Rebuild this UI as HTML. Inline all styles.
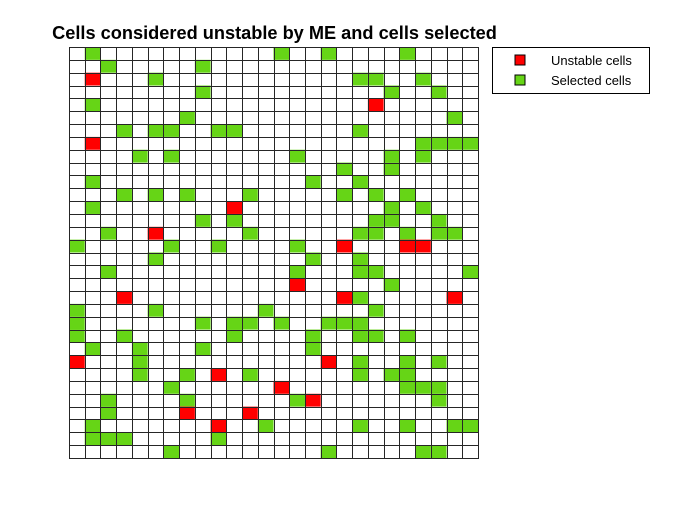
<!DOCTYPE html>
<html><head><meta charset="utf-8"><style>
html,body{margin:0;padding:0;background:#fff;}
svg{display:block;font-family:"Liberation Sans",Arial,sans-serif;}
</style></head><body>
<svg id="chart" width="700" height="525">
<rect width="700" height="525" fill="#fff"/>
<text x="274.5" y="39" text-anchor="middle" font-size="18.2" font-weight="bold" fill="#000">Cells considered unstable by ME and cells selected</text>
<g id="cells"></g>
<g id="lines"></g>
<g>
<rect x="492.5" y="47.5" width="157" height="46" fill="#fff" stroke="#000" stroke-width="1"/>
<rect x="515" y="55" width="10" height="10" fill="#ff0000" stroke="#000" stroke-width="1"/>
<text x="551" y="65" font-size="13">Unstable cells</text>
<rect x="515" y="75" width="10" height="10" fill="#66d516" stroke="#000" stroke-width="1"/>
<text x="551" y="85" font-size="13">Selected cells</text>
</g>
</svg>
<script>
const nCols = 26;
const nRows = 32;
const unstableRows = [2,4,7,12,14,15,15,15,18,19,19,19,24,24,25,26,27,28,28,29];
const unstableCols = [1,19,1,10,5,17,21,22,14,3,17,24,0,16,9,13,15,7,11,9];
const selectedRows = [0,0,0,0,1,1,2,2,2,2,3,3,3,4,5,5,6,6,6,6,6,6,7,7,7,7,8,8,8,8,8,9,9,10,10,10,11,11,11,11,11,11,11,12,12,12,13,13,13,13,13,14,14,14,14,14,14,14,15,15,15,15,16,16,16,17,17,17,17,17,18,19,20,20,20,20,21,21,21,21,21,21,21,21,22,22,22,22,22,22,22,23,23,23,23,24,24,24,24,25,25,25,25,25,25,26,26,26,26,27,27,27,27,28,29,29,29,29,29,29,30,30,30,30,31,31,31,31];
const selectedCols = [1,13,16,21,2,8,5,18,19,22,8,20,23,1,7,24,3,5,6,9,10,18,22,23,24,25,4,6,14,20,22,17,20,1,15,18,3,5,7,11,17,19,21,1,20,22,8,10,19,20,23,2,11,18,19,21,23,24,0,6,9,14,5,15,18,2,14,18,19,25,20,18,0,5,12,19,0,8,10,11,13,16,17,18,0,3,10,15,18,19,21,1,4,8,15,4,18,21,23,4,7,11,18,20,21,6,21,22,23,2,7,14,23,2,1,12,18,21,24,25,1,2,3,9,6,16,22,23];
const X0=69, X1=478, Y0=47, Y1=458;
const cw=(X1-X0)/nCols, ch=(Y1-Y0)/nRows;
const xs=c=>X0+c*cw, ys=r=>Y0+r*ch;
const NS="http://www.w3.org/2000/svg";
const cells=document.getElementById('cells'), lines=document.getElementById('lines');
function addCell(r,c,color,name){
  const el=document.createElementNS(NS,'rect');
  el.setAttribute('x',xs(c));el.setAttribute('y',ys(r));
  el.setAttribute('width',cw);el.setAttribute('height',ch);
  el.setAttribute('fill',color);
  
  
  cells.appendChild(el);
}
selectedRows.forEach((r,i)=>addCell(r,selectedCols[i],'#66d516','selected-cell'));
unstableRows.forEach((r,i)=>addCell(r,unstableCols[i],'#ff0000','unstable-cell'));
for(let c=0;c<=nCols;c++){
  const l=document.createElementNS(NS,'line');
  const x=Math.round(xs(c))+0.5;
  l.setAttribute('x1',x);l.setAttribute('x2',x);l.setAttribute('y1',Y0);l.setAttribute('y2',Y1);
  l.setAttribute('stroke','#262626');l.setAttribute('stroke-width','1');
  
  
  lines.appendChild(l);
}
for(let r=0;r<=nRows;r++){
  const l=document.createElementNS(NS,'line');
  const y=Math.round(ys(r))+0.5;
  l.setAttribute('x1',X0);l.setAttribute('x2',X1+1);l.setAttribute('y1',y);l.setAttribute('y2',y);
  l.setAttribute('stroke','#262626');l.setAttribute('stroke-width','1');
  
  
  lines.appendChild(l);
}
</script>
</body></html>
